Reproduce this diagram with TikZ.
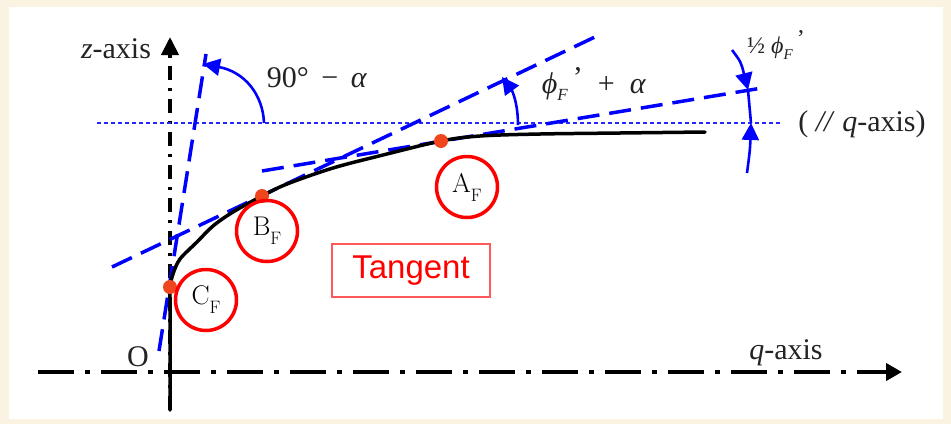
\documentclass[tikz,border=0pt]{standalone}
\usepackage{fontspec}
\newfontfamily\tnr{Liberation Serif}
\newfontfamily\arial{Liberation Sans}
\usetikzlibrary{arrows.meta}
\definecolor{bgcream}{RGB}{251,243,225}
\definecolor{dotred}{RGB}{240,70,30}
\definecolor{boxred}{RGB}{255,90,90}
\definecolor{txtgray}{RGB}{35,35,35}
\tikzset{
  axisq/.style={line width=4.5pt, dash pattern=on 36pt off 11pt on 5pt off 11pt, -{Triangle[length=16pt,width=17pt]}},
  axisz/.style={line width=4pt, dash pattern=on 14pt off 8pt on 3pt off 8pt, -{Triangle[length=18pt,width=17pt]}},
  curveline/.style={line width=3.5pt, line cap=round, line join=round},
  tanline/.style={blue, line width=3.5pt, dash pattern=on 22pt off 10pt},
  refline/.style={blue!85, line width=2pt, dash pattern=on 4pt off 3pt},
  angarrow/.style={blue, line width=2.6pt, -{Triangle[length=17pt,width=17pt]}},
  angline/.style={blue, line width=2.6pt},
  ptdot/.style={dotred},
  ring/.style={circle, draw=red, line width=3.5pt, minimum size=61pt, inner sep=0pt},
  serif/.style={font=\tnr\fontsize{30}{32}\selectfont, text=txtgray, inner sep=0pt},
}
\newcommand{\lmsub}[2]{#1\raisebox{-9pt}{\fontsize{18}{18}\selectfont #2}}
\begin{document}
\begin{tikzpicture}[x=1pt,y=-1pt]
\useasboundingbox (0,0) rectangle (951,424);
\fill[bgcream] (0,0) rectangle (951,424);
\fill[white] (9,7) rectangle (943,419);

% key points
\coordinate (O) at (170,372);
\coordinate (CF) at (170,287);
\coordinate (BF) at (262,196);
\coordinate (AF) at (441,141);

% axes
\coordinate (qs) at (38,372);
\coordinate (qe) at (902,372);
\coordinate (zs) at (170,410);
\coordinate (ze) at (170,37);
\draw[axisq] (qs) -- (qe);
\draw[axisz] (zs) -- (ze);

% reference dotted line
\coordinate (rs) at (97,123);
\coordinate (re) at (782,123);
\draw[refline] (rs) -- (re);

% tangent lines
\coordinate (t1a) at (159,351);
\coordinate (t1b) at (206,54);
\coordinate (t2a) at (112,267);
\coordinate (t2b) at (597,36);
\coordinate (t3a) at (262,171);
\coordinate (t3b) at (762,88);
\draw[tanline] (t1a) -- (t1b);
\draw[tanline] (t2a) -- (t2b);
\draw[tanline] (t3a) -- (t3b);

% curve
\draw[curveline] plot[smooth, tension=0.55] coordinates {(170,410) (170,300) (CF) (173,274) (180,259) (197,242) (213,226) (233,212) (BF) (287,184) (333,168) (383,155) (AF) (480,136) (540,134) (620,133) (705,132)};

% angle arrows
\coordinate (a1s) at (264,123);
\coordinate (a1e) at (203,64);
\draw[angarrow] (a1s) .. controls (263,95) and (245,72) .. (a1e);
\coordinate (a2s) at (518,125);
\coordinate (a2e) at (502,77);
\draw[angarrow] (a2s) .. controls (518,105) and (513,92) .. (a2e);
\coordinate (a3s) at (732,50);
\coordinate (a3e) at (748,90);
\coordinate (a4s) at (747,173);
\coordinate (a4e) at (751,123);
\draw[angarrow] (a3s) .. controls (741,62) .. (a3e);
\draw[angline] (a3e) -- (a4e);
\draw[angarrow] (a4s) .. controls (750,150) .. (a4e);

% points
\fill[ptdot] (CF) circle[radius=7pt];
\fill[ptdot] (BF) circle[radius=7pt];
\fill[ptdot] (AF) circle[radius=7pt];

% rings with labels
\node[ring, font=\fontsize{27}{27}\selectfont] (rA) at (467,187) {\lmsub{A}{F}};
\node[ring, font=\fontsize{27}{27}\selectfont] (rB) at (267,231) {\lmsub{B}{F}};
\node[ring, font=\fontsize{27}{27}\selectfont] (rC) at (206,300) {\lmsub{C}{F}};

% tangent box
\node[draw=boxred, line width=1.3pt, minimum width=158pt, minimum height=53pt, inner sep=0pt, text=red, font=\arial\fontsize{33}{36}\selectfont] (tg) at (411,270.5) {Tangent};

% labels
\node[serif, anchor=base] (lz) at (116,58) {\textit{z}-axis};
\node[serif, anchor=base] (lq) at (786,359) {\textit{q}-axis};
\node[serif, anchor=base] (lO) at (138,366) {O};
\node[serif, anchor=base] (l90) at (317,87) {90°\,\ −\ \,\textit{α}};
\node[serif, anchor=base] (lphi) at (594,93) {\textit{ϕ}\raisebox{-7pt}{\fontsize{17}{17}\selectfont\textit{F}}\,\raisebox{6pt}{’}\ \ +\ \ \textit{α}};
\node[serif, anchor=base, font=\tnr\fontsize{24}{26}\selectfont] (lhalf) at (776,53) {½\ \textit{ϕ}\raisebox{-6pt}{\fontsize{15}{15}\selectfont\textit{F}}\,\raisebox{7pt}{’}};
\node[serif, anchor=base] (lpar) at (862,131) {(\ \textit{//}\ \textit{q}-axis)};
\end{tikzpicture}
\end{document}
